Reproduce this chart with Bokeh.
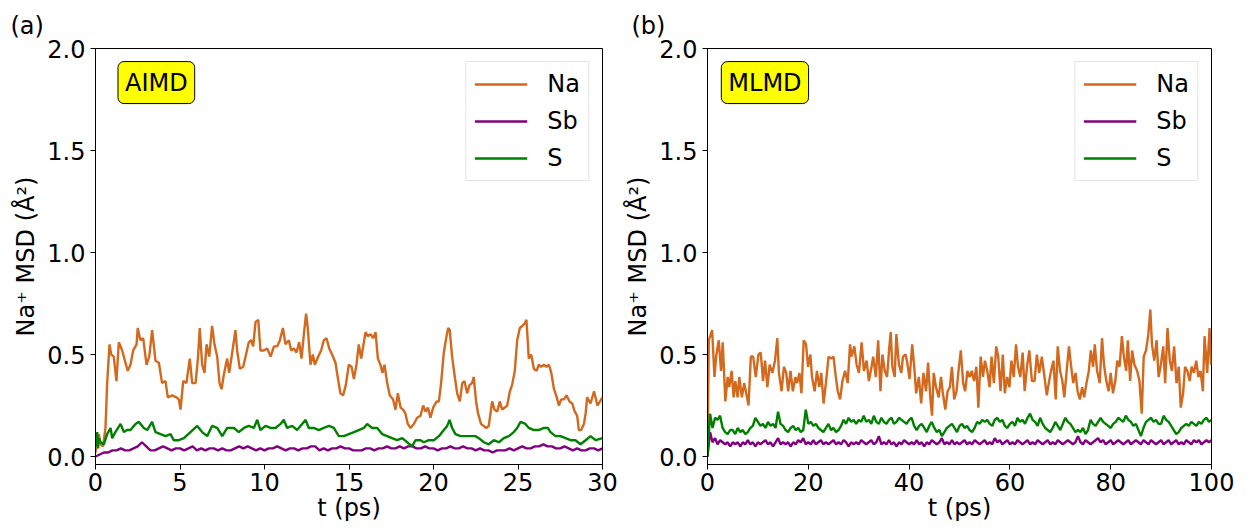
import numpy as np
from bokeh.plotting import figure
from bokeh.layouts import row
from bokeh.models import (Label, Legend, LegendItem, FixedTicker,
                          PrintfTickFormatter, Range1d, Title)
from bokeh.embed import file_html
from bokeh.resources import INLINE

# ---------------- data ----------------
aimd_na_pts = [
    (0.00, 0.02), (0.10, 0.08), (0.20, 0.11), (0.30, 0.06), (0.45, 0.05), (0.59, 0.14),
    (0.69, 0.36), (0.83, 0.55), (0.93, 0.50), (1.08, 0.49), (1.24, 0.37), (1.38, 0.56),
    (1.58, 0.52), (1.77, 0.46), (1.91, 0.42), (2.07, 0.45), (2.23, 0.52), (2.43, 0.55),
    (2.50, 0.63), (2.66, 0.57), (2.82, 0.58), (3.02, 0.45), (3.18, 0.49), (3.35, 0.62),
    (3.55, 0.47), (3.75, 0.46), (3.94, 0.36), (4.14, 0.37), (4.28, 0.29), (4.54, 0.30),
    (4.79, 0.29), (4.93, 0.28), (5.03, 0.23), (5.19, 0.37), (5.38, 0.36), (5.58, 0.48),
    (5.72, 0.36), (5.92, 0.36), (6.06, 0.48), (6.17, 0.63), (6.31, 0.45), (6.45, 0.41),
    (6.57, 0.55), (6.73, 0.49), (6.90, 0.64), (7.04, 0.55), (7.20, 0.49), (7.34, 0.36),
    (7.46, 0.33), (7.59, 0.40), (7.79, 0.48), (7.91, 0.41), (8.09, 0.51), (8.28, 0.62),
    (8.38, 0.52), (8.54, 0.43), (8.74, 0.44), (8.88, 0.49), (9.07, 0.56), (9.21, 0.57),
    (9.33, 0.54), (9.47, 0.66), (9.63, 0.67), (9.76, 0.52), (9.96, 0.52), (10.16, 0.53),
    (10.36, 0.49), (10.56, 0.54), (10.75, 0.54), (10.91, 0.57), (11.09, 0.63), (11.24, 0.55),
    (11.44, 0.57), (11.58, 0.52), (11.74, 0.53), (11.89, 0.51), (12.05, 0.56), (12.19, 0.48),
    (12.33, 0.60), (12.46, 0.70), (12.56, 0.63), (12.72, 0.45), (12.86, 0.50), (12.98, 0.45),
    (13.18, 0.49), (13.35, 0.52), (13.51, 0.57), (13.67, 0.58), (13.83, 0.53), (14.00, 0.50),
    (14.20, 0.46), (14.33, 0.39), (14.49, 0.31), (14.65, 0.30), (14.81, 0.35), (14.99, 0.45),
    (15.15, 0.44), (15.29, 0.38), (15.44, 0.45), (15.58, 0.55), (15.72, 0.48), (15.88, 0.56),
    (15.98, 0.61), (16.11, 0.59), (16.27, 0.60), (16.43, 0.58), (16.57, 0.61), (16.71, 0.48),
    (16.86, 0.45), (16.98, 0.41), (17.10, 0.45), (17.26, 0.36), (17.41, 0.30), (17.61, 0.28),
    (17.75, 0.23), (17.89, 0.31), (18.05, 0.24), (18.20, 0.23), (18.34, 0.21), (18.48, 0.16),
    (18.64, 0.14), (18.84, 0.16), (19.03, 0.19), (19.23, 0.20), (19.39, 0.25), (19.53, 0.22),
    (19.67, 0.24), (19.82, 0.19), (19.98, 0.24), (20.18, 0.27), (20.32, 0.27), (20.45, 0.36),
    (20.61, 0.51), (20.77, 0.59), (20.87, 0.63), (20.96, 0.62), (21.10, 0.49), (21.26, 0.39),
    (21.40, 0.31), (21.56, 0.27), (21.70, 0.36), (21.83, 0.37), (21.99, 0.31), (22.13, 0.35),
    (22.28, 0.36), (22.38, 0.39), (22.52, 0.27), (22.64, 0.21), (22.81, 0.16), (22.97, 0.15),
    (23.13, 0.14), (23.27, 0.15), (23.47, 0.27), (23.61, 0.23), (23.77, 0.22), (23.92, 0.27),
    (24.06, 0.23), (24.22, 0.24), (24.36, 0.25), (24.52, 0.32), (24.65, 0.35), (24.81, 0.42),
    (24.95, 0.57), (25.11, 0.63), (25.25, 0.64), (25.38, 0.65), (25.50, 0.67), (25.64, 0.48),
    (25.78, 0.50), (25.94, 0.43), (26.10, 0.42), (26.23, 0.45), (26.37, 0.44), (26.53, 0.45),
    (26.69, 0.44), (26.83, 0.45), (26.97, 0.41), (27.13, 0.33), (27.26, 0.30), (27.42, 0.25),
    (27.56, 0.28), (27.72, 0.28), (27.87, 0.30), (28.05, 0.27), (28.21, 0.26), (28.36, 0.22),
    (28.50, 0.20), (28.60, 0.13), (28.74, 0.13), (28.90, 0.16), (29.00, 0.21), (29.09, 0.29),
    (29.29, 0.26), (29.50, 0.32), (29.70, 0.25), (30.00, 0.29),
]

aimd_s_pts = [
    (0.00, 0.11), (0.05, 0.05), (0.10, 0.12), (0.15, 0.04), (0.20, 0.09), (0.30, 0.07),
    (0.49, 0.06), (0.69, 0.11), (0.89, 0.14), (0.99, 0.09), (1.18, 0.12), (1.48, 0.16),
    (1.68, 0.12), (1.87, 0.13), (2.07, 0.13), (2.37, 0.16), (2.56, 0.17), (2.86, 0.14),
    (3.06, 0.13), (3.35, 0.17), (3.55, 0.12), (3.85, 0.11), (4.14, 0.10), (4.44, 0.11),
    (4.63, 0.08), (4.93, 0.08), (5.23, 0.09), (5.62, 0.12), (6.02, 0.15), (6.31, 0.12),
    (6.61, 0.10), (6.90, 0.15), (7.20, 0.14), (7.50, 0.10), (7.79, 0.14), (8.19, 0.14),
    (8.48, 0.12), (8.78, 0.14), (9.07, 0.15), (9.37, 0.14), (9.57, 0.18), (9.76, 0.13),
    (10.06, 0.15), (10.36, 0.14), (10.65, 0.14), (10.95, 0.16), (11.14, 0.18), (11.34, 0.14),
    (11.64, 0.15), (11.93, 0.13), (12.23, 0.16), (12.43, 0.18), (12.62, 0.14), (12.92, 0.14),
    (13.21, 0.13), (13.51, 0.14), (13.81, 0.15), (14.10, 0.14), (14.40, 0.10), (14.69, 0.10),
    (14.99, 0.11), (15.29, 0.12), (15.58, 0.13), (15.88, 0.14), (16.07, 0.16), (16.37, 0.14),
    (16.67, 0.14), (16.96, 0.11), (17.26, 0.10), (17.55, 0.09), (17.85, 0.08), (18.15, 0.09),
    (18.44, 0.07), (18.74, 0.05), (18.93, 0.08), (19.23, 0.08), (19.43, 0.07), (19.72, 0.08),
    (20.02, 0.08), (20.32, 0.10), (20.61, 0.13), (20.81, 0.15), (20.95, 0.18), (21.10, 0.14),
    (21.30, 0.11), (21.60, 0.10), (21.89, 0.10), (22.19, 0.10), (22.49, 0.10), (22.68, 0.09),
    (22.98, 0.07), (23.27, 0.06), (23.57, 0.08), (23.87, 0.07), (24.16, 0.09), (24.46, 0.10),
    (24.75, 0.12), (24.95, 0.14), (25.15, 0.17), (25.44, 0.16), (25.64, 0.14), (25.94, 0.13),
    (26.23, 0.13), (26.53, 0.14), (26.77, 0.14), (26.92, 0.12), (27.22, 0.10), (27.51, 0.10),
    (27.81, 0.09), (28.11, 0.08), (28.40, 0.08), (28.70, 0.06), (29.00, 0.08), (29.29, 0.10),
    (29.60, 0.08), (30.00, 0.09),
]

aimd_sb_t = np.linspace(0, 30, 121)
aimd_sb = [
    0.00, 0.01, 0.02, 0.02, 0.03, 0.03, 0.04, 0.03, 0.03, 0.04,
    0.05, 0.07, 0.05, 0.03, 0.03, 0.04, 0.05, 0.04, 0.03, 0.04,
    0.04, 0.03, 0.04, 0.05, 0.03, 0.04, 0.03, 0.04, 0.04, 0.03,
    0.04, 0.03, 0.03, 0.04, 0.05, 0.04, 0.05, 0.04, 0.03, 0.04,
    0.03, 0.04, 0.04, 0.05, 0.04, 0.03, 0.04, 0.04, 0.03, 0.04,
    0.04, 0.05, 0.05, 0.03, 0.04, 0.03, 0.04, 0.04, 0.05, 0.04,
    0.04, 0.03, 0.03, 0.03, 0.04, 0.04, 0.03, 0.04, 0.04, 0.05,
    0.04, 0.04, 0.05, 0.04, 0.05, 0.05, 0.04, 0.04, 0.05, 0.04,
    0.04, 0.03, 0.04, 0.04, 0.05, 0.04, 0.04, 0.05, 0.04, 0.04,
    0.03, 0.04, 0.03, 0.03, 0.02, 0.03, 0.03, 0.03, 0.04, 0.03,
    0.04, 0.05, 0.04, 0.04, 0.05, 0.05, 0.06, 0.05, 0.05, 0.04,
    0.04, 0.05, 0.04, 0.03, 0.04, 0.03, 0.03, 0.04, 0.04, 0.03,
    0.04,
]

mlmd_na_pts = [
    (0.00, 0.00), (0.26, 0.57), (0.92, 0.62), (1.38, 0.39), (1.71, 0.49), (2.23, 0.57),
    (2.69, 0.42), (3.02, 0.56), (3.54, 0.27), (4.00, 0.39), (4.33, 0.34), (4.79, 0.42),
    (5.18, 0.29), (5.51, 0.37), (5.97, 0.29), (6.30, 0.39), (6.82, 0.29), (7.28, 0.36),
    (7.61, 0.32), (8.14, 0.25), (8.60, 0.49), (9.06, 0.49), (9.58, 0.39), (10.10, 0.50),
    (10.56, 0.51), (11.02, 0.37), (11.42, 0.47), (11.88, 0.34), (12.34, 0.45), (12.86, 0.41),
    (13.39, 0.47), (13.85, 0.58), (14.17, 0.41), (14.70, 0.32), (15.16, 0.44), (15.62, 0.41),
    (16.01, 0.32), (16.47, 0.42), (16.93, 0.32), (17.45, 0.39), (17.78, 0.36), (18.24, 0.41),
    (18.64, 0.31), (19.09, 0.57), (19.55, 0.55), (19.95, 0.44), (20.41, 0.50), (20.73, 0.39),
    (21.26, 0.32), (21.72, 0.42), (22.18, 0.34), (22.57, 0.41), (23.03, 0.26), (23.49, 0.36),
    (24.02, 0.49), (24.54, 0.48), (25.00, 0.49), (25.46, 0.39), (25.85, 0.32), (26.31, 0.28),
    (26.77, 0.37), (27.30, 0.42), (27.82, 0.36), (28.28, 0.55), (28.61, 0.49), (29.13, 0.54),
    (29.59, 0.45), (30.05, 0.41), (30.58, 0.56), (31.04, 0.42), (31.56, 0.47), (32.02, 0.37),
    (32.55, 0.44), (32.87, 0.49), (33.40, 0.39), (33.86, 0.57), (34.32, 0.32), (34.71, 0.50),
    (35.17, 0.42), (35.63, 0.39), (36.02, 0.52), (36.35, 0.61), (36.68, 0.44), (37.14, 0.39),
    (37.47, 0.60), (37.99, 0.45), (38.45, 0.41), (38.78, 0.49), (39.30, 0.50), (39.63, 0.46),
    (40.09, 0.38), (40.62, 0.55), (41.08, 0.42), (41.40, 0.31), (41.93, 0.39), (42.39, 0.26),
    (42.85, 0.41), (43.37, 0.32), (43.77, 0.46), (44.23, 0.28), (44.55, 0.20), (44.88, 0.41),
    (45.34, 0.34), (45.87, 0.29), (46.33, 0.39), (46.65, 0.32), (47.18, 0.23), (47.64, 0.32),
    (48.10, 0.34), (48.49, 0.44), (48.95, 0.28), (49.41, 0.32), (49.80, 0.42), (50.26, 0.52),
    (50.72, 0.36), (51.12, 0.32), (51.57, 0.42), (52.03, 0.39), (52.43, 0.42), (52.89, 0.37),
    (53.35, 0.44), (53.74, 0.24), (54.20, 0.49), (54.66, 0.39), (55.05, 0.47), (55.51, 0.42),
    (55.97, 0.34), (56.36, 0.49), (56.82, 0.36), (57.28, 0.54), (57.68, 0.49), (58.14, 0.32),
    (58.60, 0.50), (58.99, 0.31), (59.45, 0.39), (59.91, 0.34), (60.30, 0.47), (60.76, 0.39),
    (61.22, 0.55), (61.61, 0.44), (62.07, 0.39), (62.53, 0.51), (62.93, 0.32), (63.39, 0.44),
    (63.85, 0.52), (64.37, 0.37), (64.89, 0.37), (65.35, 0.50), (65.81, 0.41), (66.34, 0.49),
    (66.86, 0.39), (67.32, 0.30), (67.78, 0.37), (68.17, 0.42), (68.64, 0.47), (69.09, 0.28),
    (69.49, 0.54), (69.95, 0.42), (70.41, 0.37), (70.80, 0.29), (71.26, 0.42), (71.72, 0.54),
    (72.11, 0.45), (72.57, 0.36), (73.03, 0.41), (73.43, 0.32), (73.88, 0.28), (74.34, 0.34),
    (74.74, 0.29), (75.20, 0.36), (75.66, 0.42), (76.05, 0.52), (76.51, 0.44), (76.84, 0.55),
    (77.30, 0.42), (77.82, 0.36), (78.28, 0.58), (78.67, 0.45), (79.13, 0.37), (79.59, 0.32),
    (79.99, 0.41), (80.45, 0.31), (80.91, 0.37), (81.30, 0.47), (81.76, 0.44), (82.22, 0.59),
    (82.61, 0.49), (83.07, 0.42), (83.40, 0.57), (83.86, 0.37), (84.25, 0.52), (84.71, 0.45),
    (85.24, 0.42), (85.70, 0.37), (86.16, 0.21), (86.55, 0.49), (87.01, 0.52), (87.47, 0.60),
    (87.86, 0.72), (88.19, 0.55), (88.65, 0.47), (89.11, 0.57), (89.50, 0.39), (89.96, 0.45),
    (90.42, 0.54), (90.81, 0.36), (91.27, 0.63), (91.73, 0.47), (92.13, 0.42), (92.59, 0.54),
    (93.05, 0.36), (93.50, 0.44), (93.90, 0.24), (94.36, 0.31), (94.75, 0.44), (95.21, 0.42),
    (95.67, 0.37), (96.06, 0.44), (96.52, 0.41), (96.98, 0.47), (97.38, 0.39), (97.83, 0.42),
    (98.29, 0.32), (98.62, 0.59), (99.15, 0.41), (99.61, 0.63), (99.93, 0.45),
]

mlmd_t = np.linspace(0, 100, 201)
mlmd_s = [
    0.00, 0.21, 0.14, 0.19, 0.18, 0.20, 0.14, 0.12, 0.11, 0.13,
    0.13, 0.11, 0.14, 0.12, 0.13, 0.11, 0.12, 0.14, 0.15, 0.19,
    0.17, 0.15, 0.16, 0.14, 0.17, 0.15, 0.16, 0.14, 0.22, 0.16,
    0.15, 0.13, 0.12, 0.14, 0.15, 0.13, 0.14, 0.12, 0.13, 0.23,
    0.16, 0.17, 0.15, 0.16, 0.14, 0.13, 0.12, 0.14, 0.16, 0.13,
    0.14, 0.12, 0.13, 0.15, 0.18, 0.16, 0.19, 0.17, 0.18, 0.16,
    0.18, 0.17, 0.20, 0.17, 0.18, 0.16, 0.20, 0.17, 0.16, 0.19,
    0.17, 0.16, 0.18, 0.19, 0.16, 0.17, 0.19, 0.18, 0.17, 0.16,
    0.18, 0.19, 0.15, 0.13, 0.15, 0.16, 0.14, 0.12, 0.15, 0.17,
    0.14, 0.12, 0.13, 0.10, 0.12, 0.14, 0.15, 0.16, 0.14, 0.12,
    0.15, 0.16, 0.14, 0.15, 0.13, 0.12, 0.14, 0.17, 0.16, 0.18,
    0.17, 0.18, 0.16, 0.15, 0.18, 0.19, 0.17, 0.18, 0.15, 0.14,
    0.16, 0.17, 0.15, 0.19, 0.17, 0.18, 0.16, 0.19, 0.21, 0.18,
    0.17, 0.15, 0.19, 0.16, 0.14, 0.13, 0.12, 0.14, 0.17, 0.15,
    0.13, 0.16, 0.19, 0.17, 0.16, 0.14, 0.12, 0.13, 0.12, 0.14,
    0.11, 0.13, 0.18, 0.16, 0.15, 0.17, 0.19, 0.17, 0.16, 0.15,
    0.14, 0.16, 0.17, 0.19, 0.18, 0.17, 0.20, 0.18, 0.17, 0.15,
    0.16, 0.13, 0.10, 0.14, 0.17, 0.18, 0.19, 0.17, 0.18, 0.16,
    0.16, 0.20, 0.18, 0.17, 0.15, 0.13, 0.11, 0.12, 0.14, 0.15,
    0.16, 0.15, 0.17, 0.16, 0.15, 0.17, 0.16, 0.18, 0.19, 0.17,
    0.18,
]
mlmd_sb = [
    0.00, 0.12, 0.07, 0.09, 0.06, 0.08, 0.07, 0.06, 0.07, 0.05,
    0.07, 0.06, 0.07, 0.05, 0.07, 0.06, 0.08, 0.06, 0.07, 0.05,
    0.07, 0.06, 0.07, 0.08, 0.06, 0.07, 0.05, 0.07, 0.09, 0.06,
    0.07, 0.06, 0.07, 0.05, 0.07, 0.06, 0.08, 0.07, 0.09, 0.06,
    0.07, 0.06, 0.08, 0.06, 0.07, 0.08, 0.06, 0.07, 0.06, 0.07,
    0.08, 0.06, 0.07, 0.06, 0.08, 0.07, 0.05, 0.07, 0.06, 0.07,
    0.06, 0.08, 0.07, 0.06, 0.07, 0.08, 0.06, 0.07, 0.10, 0.06,
    0.07, 0.06, 0.08, 0.06, 0.07, 0.05, 0.07, 0.06, 0.08, 0.07,
    0.06, 0.07, 0.06, 0.08, 0.06, 0.07, 0.05, 0.07, 0.06, 0.08,
    0.07, 0.06, 0.07, 0.09, 0.06, 0.07, 0.06, 0.08, 0.06, 0.07,
    0.06, 0.07, 0.08, 0.06, 0.07, 0.06, 0.08, 0.07, 0.06, 0.07,
    0.08, 0.06, 0.07, 0.06, 0.09, 0.07, 0.08, 0.06, 0.07, 0.08,
    0.06, 0.07, 0.06, 0.08, 0.07, 0.06, 0.07, 0.08, 0.06, 0.07,
    0.06, 0.08, 0.07, 0.06, 0.07, 0.08, 0.06, 0.07, 0.06, 0.08,
    0.07, 0.06, 0.07, 0.08, 0.07, 0.06, 0.07, 0.10, 0.07, 0.06,
    0.08, 0.07, 0.06, 0.07, 0.08, 0.09, 0.07, 0.08, 0.06, 0.07,
    0.08, 0.06, 0.07, 0.08, 0.07, 0.06, 0.07, 0.08, 0.06, 0.07,
    0.08, 0.07, 0.06, 0.08, 0.07, 0.06, 0.08, 0.07, 0.06, 0.07,
    0.08, 0.06, 0.07, 0.08, 0.06, 0.07, 0.08, 0.06, 0.07, 0.06,
    0.08, 0.07, 0.06, 0.08, 0.07, 0.08, 0.06, 0.07, 0.08, 0.07,
    0.08,
]

species = ["Na", "Sb", "S"]
colors = {"Na": "#D2691E", "Sb": "#800080", "S": "#008000"}
y_ticks = [0.0, 0.5, 1.0, 1.5, 2.0]
aimd_x_ticks = [0, 5, 10, 15, 20, 25, 30]
mlmd_x_ticks = [0, 20, 40, 60, 80, 100]

FONT = "DejaVu Sans"
FS = "24px"


def make_panel(width, left, right, xmax, xticks, series, box_text, box_x,
               tag, tag_offset):
    p = figure(width=width, height=531,
               x_range=Range1d(0, xmax), y_range=Range1d(-0.039, 2.0),
               output_backend="svg", toolbar_location=None,
               min_border_left=left, min_border_right=right,
               min_border_top=48, min_border_bottom=67)
    p.background_fill_color = "white"
    p.border_fill_color = "white"
    p.xgrid.visible = False
    p.ygrid.visible = False
    p.outline_line_color = "black"
    p.outline_line_width = 1
    p.outline_line_alpha = 1.0
    for ax in (p.xaxis[0], p.yaxis[0]):
        ax.major_tick_out = 5
        ax.major_tick_in = 0
        ax.minor_tick_out = 0
        ax.minor_tick_in = 0
        ax.axis_line_color = "black"
        ax.major_tick_line_color = "black"
        ax.major_label_text_font = FONT
        ax.major_label_text_font_size = FS
        ax.major_label_text_color = "black"
        ax.axis_label_text_font = FONT
        ax.axis_label_text_font_size = FS
        ax.axis_label_text_font_style = "normal"
        ax.axis_label_text_color = "black"
    p.xaxis.ticker = FixedTicker(ticks=xticks)
    p.xaxis.formatter = PrintfTickFormatter(format="%d")
    p.xaxis.major_label_standoff = 3
    p.xaxis.axis_label = "t (ps)"
    p.xaxis.axis_label_standoff = 0
    p.yaxis.ticker = FixedTicker(ticks=y_ticks)
    p.yaxis.formatter = PrintfTickFormatter(format="%.1f")
    p.yaxis.axis_label = "Na\u207a MSD (\u00c5\u00b2)"
    p.yaxis.axis_label_standoff = 4

    p.title = Title(text=tag, align="left", offset=tag_offset, standoff=17,
                    text_font=FONT, text_font_size=FS, text_font_style="normal",
                    text_color="black")

    items = []
    for name in species:
        tx, ty = series[name]
        r = p.line(tx, ty, line_color=colors[name], line_width=2.4)
        items.append(LegendItem(label=name, renderers=[r]))
    legend = Legend(items=items, location="top_right", margin=13,
                    padding=8, spacing=9, glyph_width=53, glyph_height=28,
                    label_height=28, label_standoff=20,
                    label_text_font=FONT, label_text_font_size=FS,
                    label_text_color="black",
                    border_line_color="#cccccc", border_line_width=1,
                    background_fill_color="white", background_fill_alpha=0.8)
    p.add_layout(legend)

    p.add_layout(Label(x=box_x, y=1.833, text=box_text, text_align="center",
                       text_baseline="middle", text_font=FONT, text_font_size=FS,
                       text_color="black", background_fill_color="yellow",
                       border_line_color="black", border_line_width=1,
                       padding=7, border_radius=6))
    return p


a_na_t, a_na_v = zip(*aimd_na_pts)
a_s_t, a_s_v = zip(*aimd_s_pts)
m_na_t, m_na_v = zip(*mlmd_na_pts)

p1 = make_panel(621, 95, 19, 30, aimd_x_ticks,
                {"Na": (list(a_na_t), list(a_na_v)),
                 "Sb": (list(aimd_sb_t), aimd_sb),
                 "S": (list(a_s_t), list(a_s_v))},
                "AIMD", 3.6, "(a)", -85)
p2 = make_panel(626, 82, 36, 100, mlmd_x_ticks,
                {"Na": (list(m_na_t), list(m_na_v)),
                 "Sb": (list(mlmd_t), mlmd_sb),
                 "S": (list(mlmd_t), mlmd_s)},
                "MLMD", 11.4, "(b)", -76)

layout = row(p1, p2)
open("out.html", "w").write(file_html(layout, INLINE))
